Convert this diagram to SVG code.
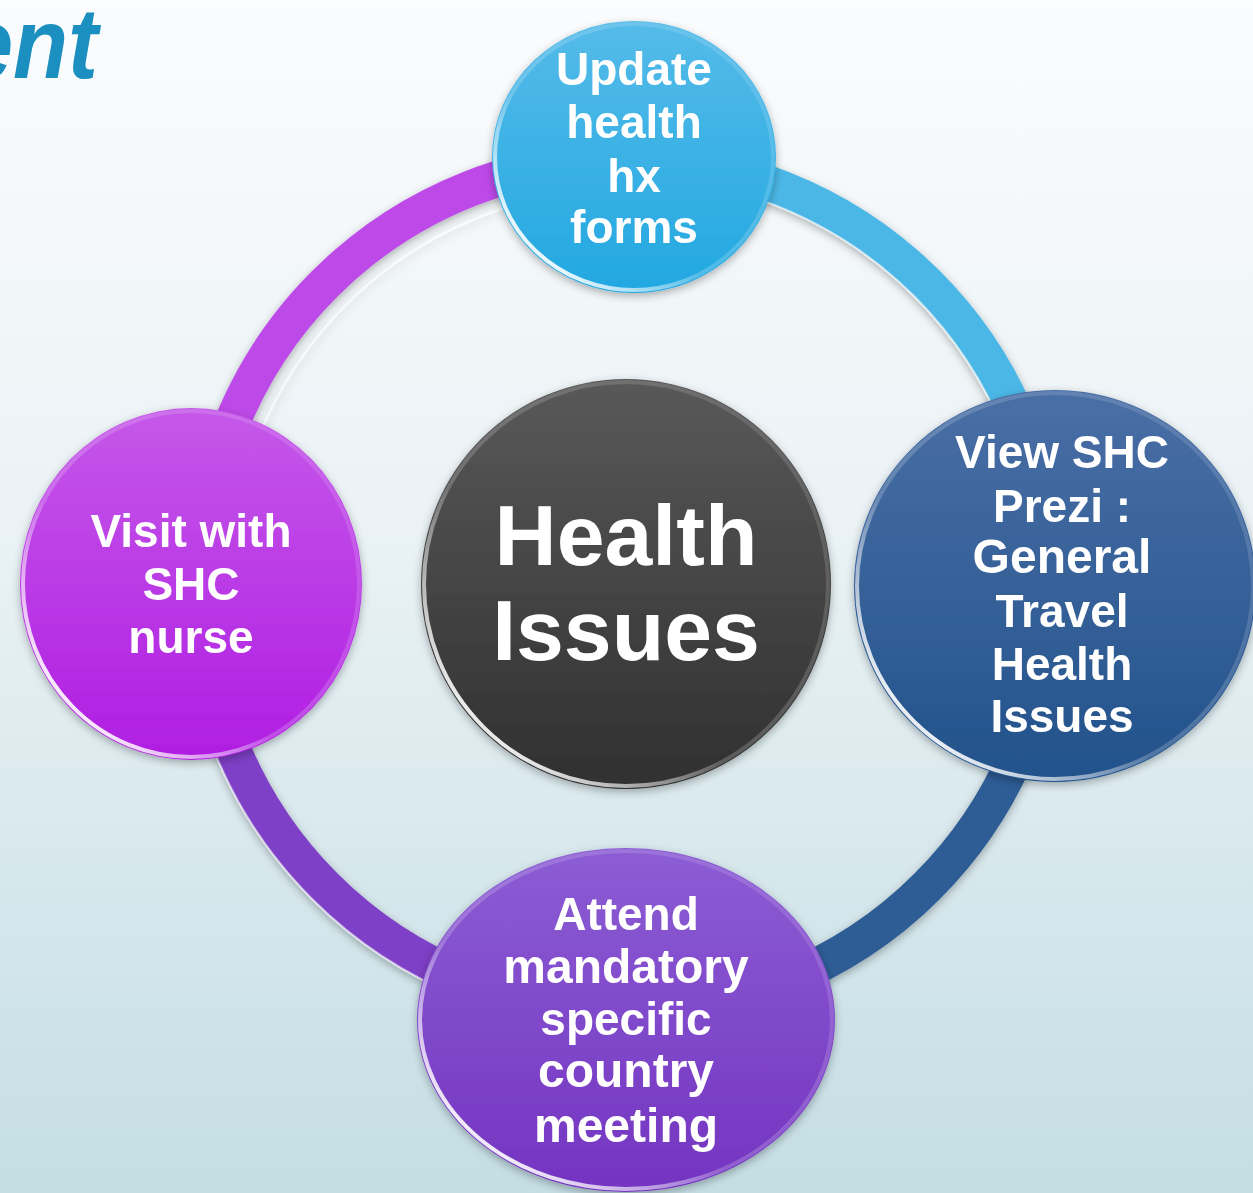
<svg xmlns="http://www.w3.org/2000/svg" width="1253" height="1193" viewBox="0 0 1253 1193">
  <defs>
    <linearGradient id="bg" x1="0" y1="0" x2="0" y2="1">
      <stop offset="0" stop-color="#fbfcfd"/>
      <stop offset="0.45" stop-color="#eaf2f5"/>
      <stop offset="1" stop-color="#c4dee4"/>
    </linearGradient>
    <linearGradient id="gTop" x1="0" y1="0" x2="0" y2="1">
      <stop offset="0" stop-color="#55bbe9"/>
      <stop offset="1" stop-color="#22a8e1"/>
    </linearGradient>
    <linearGradient id="gRight" x1="0" y1="0" x2="0" y2="1">
      <stop offset="0" stop-color="#4a6fa6"/>
      <stop offset="1" stop-color="#22528b"/>
    </linearGradient>
    <linearGradient id="gBottom" x1="0" y1="0" x2="0" y2="1">
      <stop offset="0" stop-color="#8c5dd4"/>
      <stop offset="1" stop-color="#7434c1"/>
    </linearGradient>
    <linearGradient id="gLeft" x1="0" y1="0" x2="0" y2="1">
      <stop offset="0" stop-color="#c558e9"/>
      <stop offset="1" stop-color="#b01de2"/>
    </linearGradient>
    <linearGradient id="gCenter" x1="0" y1="0" x2="0" y2="1">
      <stop offset="0" stop-color="#595959"/>
      <stop offset="1" stop-color="#303030"/>
    </linearGradient>
    <linearGradient id="rim" x1="1" y1="0" x2="0" y2="1">
      <stop offset="0" stop-color="#ffffff" stop-opacity="0.1"/>
      <stop offset="0.6" stop-color="#ffffff" stop-opacity="0.2"/>
      <stop offset="0.85" stop-color="#ffffff" stop-opacity="0.9"/>
      <stop offset="1" stop-color="#ffffff" stop-opacity="0.3"/>
    </linearGradient>
    <filter id="shadow" x="-20%" y="-20%" width="140%" height="140%">
      <feDropShadow dx="0" dy="3" stdDeviation="4" flood-color="#000000" flood-opacity="0.3"/>
    </filter>
  </defs>
  <style>
    .ring { fill: none; stroke-width: 36; }
    .hl { fill: none; stroke: #ffffff; stroke-width: 2; stroke-opacity: 0.6; }
    .node-rim { fill: none; stroke: url(#rim); stroke-width: 4; }
    .lbl { font-family: "Liberation Sans", Arial, sans-serif; font-weight: bold; font-size: 46px; fill: #ffffff; text-anchor: middle; }
    .wide { font-size: 48px; }
    .big { font-size: 86px; }
  </style>

  <rect x="0" y="0" width="1253" height="1193" fill="url(#bg)"/>

  <text x="0" y="78" transform="translate(98,0) scale(0.9,1)" font-family="'Liberation Sans', Arial, sans-serif" font-weight="bold" font-style="italic" font-size="100" fill="#1a8fc0" text-anchor="end">ent</text>

  <g id="connectors" filter="url(#shadow)">
    <path class="ring" stroke="#bd4ae8" d="M 200 585 A 426 426 0 0 1 626 159"/>
    <path class="ring" stroke="#4cb7e6" d="M 626 159 A 426 426 0 0 1 1052 585"/>
    <path class="ring" stroke="#2e5c95" d="M 1052 585 A 426 426 0 0 1 626 1011"/>
    <path class="ring" stroke="#7d40c6" d="M 626 1011 A 426 426 0 0 1 200 585"/>
    <path class="hl" stroke-opacity="0.35" d="M 230 585 A 396 396 0 0 1 626 189"/>
    <path class="hl" d="M 626 177 A 408 408 0 0 1 1034 585"/>
    <path class="hl" stroke-opacity="0.8" d="M 626 1029 A 444 444 0 0 1 182 585"/>
  </g>

  <g id="node-center" filter="url(#shadow)">
    <circle cx="626" cy="584" r="205" fill="url(#gCenter)"/>
    <circle class="node-rim" cx="626" cy="584" r="202"/>
    <text class="lbl big" x="626" y="565">Health</text>
    <text class="lbl big" x="626" y="660">Issues</text>
  </g>

  <g id="node-top" filter="url(#shadow)">
    <ellipse cx="634" cy="157" rx="142" ry="136" fill="url(#gTop)"/>
    <ellipse class="node-rim" cx="634" cy="157" rx="139" ry="133"/>
    <text class="lbl" x="634" y="85">Update</text>
    <text class="lbl" x="634" y="138">health</text>
    <text class="lbl" x="634" y="192">hx</text>
    <text class="lbl" x="634" y="243">forms</text>
  </g>

  <g id="node-right" filter="url(#shadow)">
    <ellipse cx="1055" cy="586" rx="201" ry="196" fill="url(#gRight)"/>
    <ellipse class="node-rim" cx="1055" cy="586" rx="198" ry="193"/>
    <text class="lbl" x="1062" y="468">View SHC</text>
    <text class="lbl" x="1062" y="522">Prezi :</text>
    <text class="lbl wide" x="1062" y="573">General</text>
    <text class="lbl" x="1062" y="627">Travel</text>
    <text class="lbl" x="1062" y="680">Health</text>
    <text class="lbl" x="1062" y="732">Issues</text>
  </g>

  <g id="node-bottom" filter="url(#shadow)">
    <ellipse cx="626" cy="1020" rx="209" ry="172" fill="url(#gBottom)"/>
    <ellipse class="node-rim" cx="626" cy="1020" rx="206" ry="169"/>
    <text class="lbl" x="626" y="930">Attend</text>
    <text class="lbl wide" x="626" y="983">mandatory</text>
    <text class="lbl" x="626" y="1035">specific</text>
    <text class="lbl wide" x="626" y="1087">country</text>
    <text class="lbl wide" x="626" y="1142">meeting</text>
  </g>

  <g id="node-left" filter="url(#shadow)">
    <ellipse cx="191" cy="584" rx="171" ry="176" fill="url(#gLeft)"/>
    <ellipse class="node-rim" cx="191" cy="584" rx="168" ry="173"/>
    <text class="lbl" x="191" y="547">Visit with</text>
    <text class="lbl" x="191" y="600">SHC</text>
    <text class="lbl" x="191" y="653">nurse</text>
  </g>
</svg>
